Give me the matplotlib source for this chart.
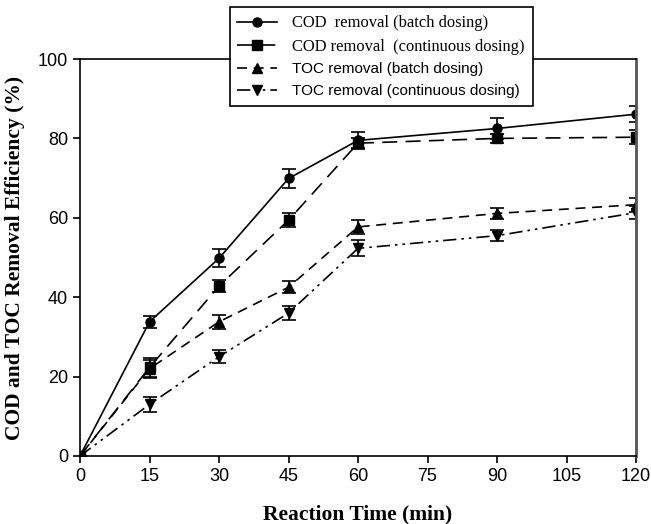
import numpy as np
import matplotlib
matplotlib.use('Agg')
import matplotlib.pyplot as plt
from matplotlib.lines import Line2D

# reaction time (min)
time = [0, 15, 30, 45, 60, 90, 120]

# removal efficiency (%) and error bars
cod_batch = [0, 33.8, 49.8, 69.9, 79.5, 82.5, 86.1]
cod_batch_err = [0, 1.5, 2.3, 2.5, 2.2, 2.7, 2.0]
cod_cont = [0, 22.3, 42.8, 59.4, 78.8, 80.0, 80.3]
cod_cont_err = [0, 2.3, 1.5, 1.7, 1.3, 1.2, 1.8]
toc_batch = [0, 22.0, 33.8, 42.5, 57.7, 61.1, 63.3]
toc_batch_err = [0, 2.3, 1.7, 1.5, 1.7, 1.3, 1.8]
toc_cont = [0, 13.0, 25.0, 36.0, 52.3, 55.5, 61.3]
toc_cont_err = [0, 1.8, 1.7, 1.8, 2.0, 1.4, 1.6]

labels = ['COD  removal (batch dosing)',
          'COD removal  (continuous dosing)',
          'TOC removal (batch dosing)',
          'TOC removal (continuous dosing)']

series = [
    (cod_batch, cod_batch_err, 'o', '-'),
    (cod_cont, cod_cont_err, 's', (0, (9, 5))),
    (toc_batch, toc_batch_err, '^', (0, (6, 4))),
    (toc_cont, toc_cont_err, 'v', (0, (8, 3, 1.5, 3, 1.5, 3))),
]

fig = plt.figure(figsize=(6.51, 5.24), dpi=100)
ax = fig.add_axes([0.1229, 0.1298, 0.8541, 0.7576])

handles = []
for (y, e, m, ls), lab in zip(series, labels):
    ax.errorbar(time, y, yerr=e, color='black', marker=m, ms=6.5,
                linestyle=ls, lw=1.2, capsize=5, elinewidth=1.2,
                capthick=1.2)
    handles.append(Line2D([], [], color='black', marker=m, ms=6.5,
                          linestyle=ls, lw=1.2))

ax.set_xlim(0, 120)
ax.set_ylim(0, 100)
ax.set_xticks(np.arange(0, 121, 15))
ax.set_yticks(np.arange(0, 101, 20))
ax.tick_params(direction='out', length=5, width=1.2, labelsize=13,
               top=False, right=False)
for lbl in ax.get_xticklabels() + ax.get_yticklabels():
    lbl.set_family('Liberation Sans')
for s in ax.spines.values():
    s.set_linewidth(1.2)
ax.spines['right'].set_color('#555555')
ax.spines['right'].set_linewidth(2)

ax.set_xlabel('Reaction Time (min)', family='Liberation Serif',
              fontweight='bold', fontsize=15.5, labelpad=14)
ax.set_ylabel('COD and TOC Removal Efficiency (%)', family='Liberation Serif',
              fontweight='bold', fontsize=15.5, labelpad=9)

leg = fig.legend(handles=handles, labels=labels, loc='upper left',
                 bbox_to_anchor=(0.353, 0.986), borderaxespad=0,
                 frameon=True, fancybox=False,
                 edgecolor='black', framealpha=1,
                 handlelength=2.6, labelspacing=0.5, borderpad=0.5,
                 handletextpad=1.0,
                 prop={'family': 'Liberation Sans', 'size': 11})
leg.get_frame().set_linewidth(1.2)
for t in leg.get_texts()[:2]:
    t.set_family('Liberation Serif')
    t.set_fontsize(11.9)

fig.savefig('out.png', dpi=100)
